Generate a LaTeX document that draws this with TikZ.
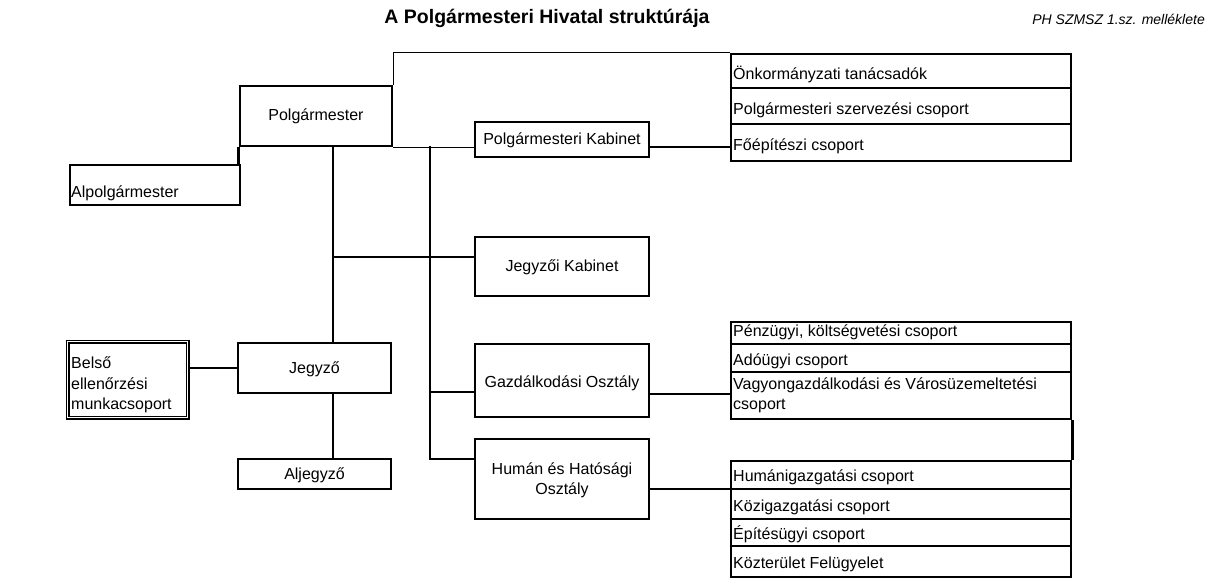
\documentclass[tikz,border=0pt]{standalone}
\usepackage{fontspec}
\setmainfont{Liberation Sans}
\begin{document}
\begin{tikzpicture}[x=1pt,y=-1pt,
  box/.style={draw,line width=2.6pt,inner sep=0pt},
  grp/.style={draw,line width=2.6pt,inner sep=0pt},
  lbl/.style={inner sep=0pt,font=\fontsize{16}{20}\selectfont},
  rowtxt/.style={inner sep=0pt,anchor=west,font=\fontsize{16}{20}\selectfont},
  divl/.style={line width=1.6pt},
  conn/.style={line width=1.6pt},
  thinconn/.style={line width=1.1pt},
  thickconn/.style={line width=2.4pt}]
\useasboundingbox (0,0) rectangle (1212,578);
% titles
\node[inner sep=0pt,font=\bfseries\fontsize{19.5}{22}\selectfont] (title) at (547,18) {A Polgármesteri Hivatal struktúrája};
\node[inner sep=0pt,font=\itshape\fontsize{14}{16}\selectfont,anchor=east] (ref) at (1205,19) {PH SZMSZ 1.sz. melléklete};
% main boxes
\node[box,minimum width=152pt,minimum height=60pt] (polg) at (316,116) {};
\node[lbl] (polgt) at (316,116) {Polgármester};
\node[box,minimum width=170pt,minimum height=40pt] (alpolg) at (155,185) {};
\node[rowtxt] (alpolgt) at (71,193) {Alpolgármester};
\node[box,minimum width=174pt,minimum height=35pt] (kab) at (562,139.5) {};
\node[lbl] (kabt) at (562,140) {Polgármesteri Kabinet};
\node[box,minimum width=174pt,minimum height=59pt] (jkab) at (562,266.5) {};
\node[lbl] (jkabt) at (562,267) {Jegyzői Kabinet};
\node[box,minimum width=174pt,minimum height=73pt] (gazd) at (562,380.5) {};
\node[lbl] (gazdt) at (562,383) {Gazdálkodási Osztály};
\node[box,minimum width=174pt,minimum height=80pt] (human) at (562,479) {};
\node[lbl,align=center] (humant) at (562,480) {Humán és Hatósági\\Osztály};
\node[box,minimum width=153pt,minimum height=50pt] (jegyzo) at (314.5,368) {};
\node[lbl] (jegyzot) at (314.5,369) {Jegyző};
\node[box,minimum width=153pt,minimum height=30pt] (aljegyzo) at (314.5,474) {};
\node[lbl] (aljegyzot) at (314.5,475) {Aljegyző};
\node[draw,double,double distance=1.6pt,line width=1.2pt,inner sep=0pt,minimum width=120pt,minimum height=76pt] (belso) at (127.5,379.5) {};
\node[inner sep=0pt,anchor=north west,align=left,font=\fontsize{16}{20.5}\selectfont] (belsot) at (71,357) {Belső\\ellenőrzési\\munkacsoport};
% group 1
\node[grp,minimum width=340pt,minimum height=107pt] (g1) at (901,107.5) {};
\draw[divl] (g1.west |- 0,88) -- (g1.east |- 0,88);
\draw[divl] (g1.west |- 0,124) -- (g1.east |- 0,124);
\node[rowtxt] (g1a) at (733,74) {Önkormányzati tanácsadók};
\node[rowtxt] (g1b) at (733,110) {Polgármesteri szervezési csoport};
\node[rowtxt] (g1c) at (733,146) {Főépítészi csoport};
% group 2
\node[grp,minimum width=340pt,minimum height=97pt] (g2) at (901,370.5) {};
\draw[divl] (g2.west |- 0,344) -- (g2.east |- 0,344);
\draw[divl] (g2.west |- 0,372) -- (g2.east |- 0,372);
\node[rowtxt] (g2a) at (733,332) {Pénzügyi, költségvetési csoport};
\node[rowtxt] (g2b) at (733,361) {Adóügyi csoport};
\node[rowtxt,align=left] (g2c) at (733,395) {Vagyongazdálkodási és Városüzemeltetési\\csoport};
% group 3
\node[grp,minimum width=340pt,minimum height=116pt] (g3) at (901,519) {};
\draw[divl] (g3.west |- 0,489) -- (g3.east |- 0,489);
\draw[divl] (g3.west |- 0,519) -- (g3.east |- 0,519);
\draw[divl] (g3.west |- 0,546) -- (g3.east |- 0,546);
\node[rowtxt] (g3a) at (733,477) {Humánigazgatási csoport};
\node[rowtxt] (g3b) at (733,507) {Közigazgatási csoport};
\node[rowtxt] (g3c) at (733,534) {Építésügyi csoport};
\node[rowtxt] (g3d) at (733,564) {Közterület Felügyelet};
% coordinates
\coordinate (v1) at (333,146);
\coordinate (j1) at (333,257);
\coordinate (v2) at (430,146);
\coordinate (v2g) at (430,392);
\coordinate (v2b) at (430,459);
\coordinate (kc) at (649,147);
\coordinate (gc) at (649,394);
\coordinate (hc) at (649,489);
% connectors
\draw[thinconn] (polg.north east) |- (g1.north west);
\draw[box] (polg.south west) -- (polg.south west |- alpolg.north);
\draw[conn] (polg.south east) -- (polg.south east -| kab.west);
\draw[thickconn] (kc) -- (kc -| g1.west);
\draw[thinconn] (v1) -- (v1 |- jegyzo.north);
\draw[thinconn] (j1) -- (j1 -| jkab.west);
\draw[conn] (jegyzo.south -| v1) -- (aljegyzo.north -| v1);
\draw[conn] (jegyzo.west -| belso.east) -- (jegyzo.west);
\draw[thinconn] (v2) -- (v2b) -- (v2b -| human.west);
\draw[thinconn] (v2g) -- (v2g -| gazd.west);
\draw[thickconn] (gc) -- (gc -| g2.west);
\draw[thickconn] (hc) -- (hc -| g3.west);
\draw[grp] (g2.south east) -- (g3.north east);
\end{tikzpicture}
\end{document}
